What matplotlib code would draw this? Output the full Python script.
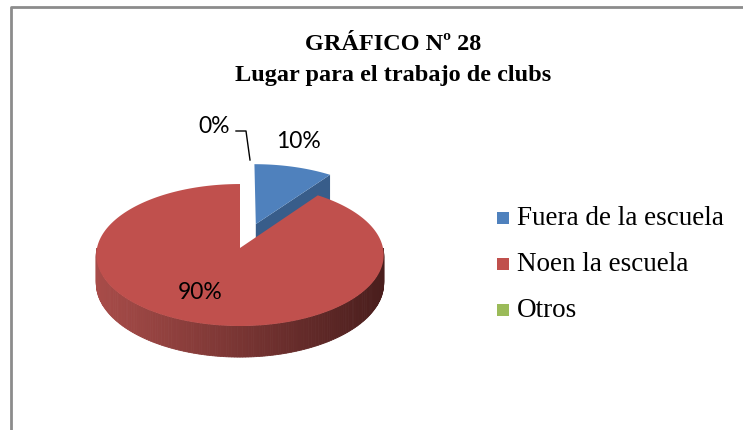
import numpy as np
import matplotlib.pyplot as plt
from matplotlib.patches import Polygon, Rectangle

# Datos del gráfico
categorias = ['Fuera de la escuela', 'Noen la escuela', 'Otros']
valores = [10, 90, 0]
colores = ['#4F81BD', '#C0504D', '#9BBB59']
colores_lado = ['#385D8A', '#8C3836', '#71893F']
titulo = ['GRÁFICO Nº 28', 'Lugar para el trabajo de clubs']

# Geometría del pastel 3D (en píxeles)
cx, cy = 240, 249
rx, ry = 143, 70.3
k = 0.099          # perspectiva
prof = 28          # grosor
explota = [0.37, 0.0, 0.0]


def proyectar(theta, r=1.0, z=0.0, off=(0.0, 0.0)):
    t = np.radians(theta)
    px = r * np.cos(t) + off[0]
    py = r * np.sin(t) + off[1]
    s = 1.0 / (1.0 + k * py)
    return cx + rx * px * s, cy - ry * py * s + prof * z * s


fig = plt.figure(figsize=(7.43, 4.31), dpi=100)
ax = fig.add_axes([0, 0, 1, 1])
ax.set_xlim(0, 743)
ax.set_ylim(431, 0)
ax.axis('off')

# borde del área del gráfico
ax.plot([11, 11, 743], [431, 7.5, 7.5], color='#8c8c8c', lw=2, solid_capstyle='butt')

total = sum(valores)
fr = np.array(valores) / total
ini = 90 - 360 * np.concatenate([[0], np.cumsum(fr)[:-1]])
fin = ini - 360 * fr


def cara_superior(i):
    mid = (ini[i] + fin[i]) / 2
    off = (explota[i] * np.cos(np.radians(mid)), explota[i] * np.sin(np.radians(mid)))
    th = np.linspace(ini[i], fin[i], 200)
    x, y = proyectar(th, off=off)
    c = proyectar(0, r=0, off=off)
    pts = np.vstack([[c[0], c[1]], np.column_stack([x, y])])
    return off, pts


# rebanada azul (detrás)
off, pts = cara_superior(0)
c0 = proyectar(0, r=0, off=off)
c1 = proyectar(0, r=0, z=1, off=off)
p0 = proyectar(fin[0], off=off)
p1 = proyectar(fin[0], z=1, off=off)
ax.add_patch(Polygon([c0, p0, p1, c1], closed=True, color=colores_lado[0], lw=0))
ax.add_patch(Polygon(pts, closed=True, color=colores[0], lw=0))

# pared lateral roja con degradado
c_izq = np.array([168, 76, 73]) / 255
c_der = np.array([74, 30, 29]) / 255
th_lado = np.linspace(-180, 0, 181)
for a, b in zip(th_lado[:-1], th_lado[1:]):
    xa, ya = proyectar(a)
    xb, yb = proyectar(b)
    xa2, ya2 = proyectar(a, z=1)
    xb2, yb2 = proyectar(b, z=1)
    f = np.clip(((xa + xb) / 2 - (cx - rx)) / (2 * rx), 0, 1)
    col = c_izq * (1 - f) + c_der * f
    ax.add_patch(Polygon([(xa, ya), (xb, yb), (xb2, yb2), (xa2, ya2)], closed=True,
                         color=col, lw=0.6))

# cara superior roja
off, pts = cara_superior(1)
ax.add_patch(Polygon(pts, closed=True, color=colores[1], lw=0))

# etiquetas de datos
etiquetas = ['%d%%' % round(v) for v in fr * 100]
pos_etq = [(298, 142), (200, 293), (214, 127)]
for e, (x, y) in zip(etiquetas, pos_etq):
    ax.text(x, y, e, fontsize=16.5, family='Lato', ha='center', va='center', color='black')
# línea guía del 0%
ax.plot([236, 246, 250], [132, 132, 161], color='black', lw=1)

# título
for t, y in zip(titulo, [45, 76]):
    ax.text(393, y, t, fontsize=17.5, family='Liberation Serif', fontweight='bold',
            ha='center', va='center')

# leyenda
ley_y = [219, 265, 311]
for cat, col, y in zip(categorias, colores, ley_y):
    ax.add_patch(Rectangle((497, y - 6), 12, 12, color=col, lw=0))
    ax.text(517, y, cat, fontsize=19.5, family='Liberation Serif', ha='left', va='center')

fig.savefig('out.png', dpi=100)
